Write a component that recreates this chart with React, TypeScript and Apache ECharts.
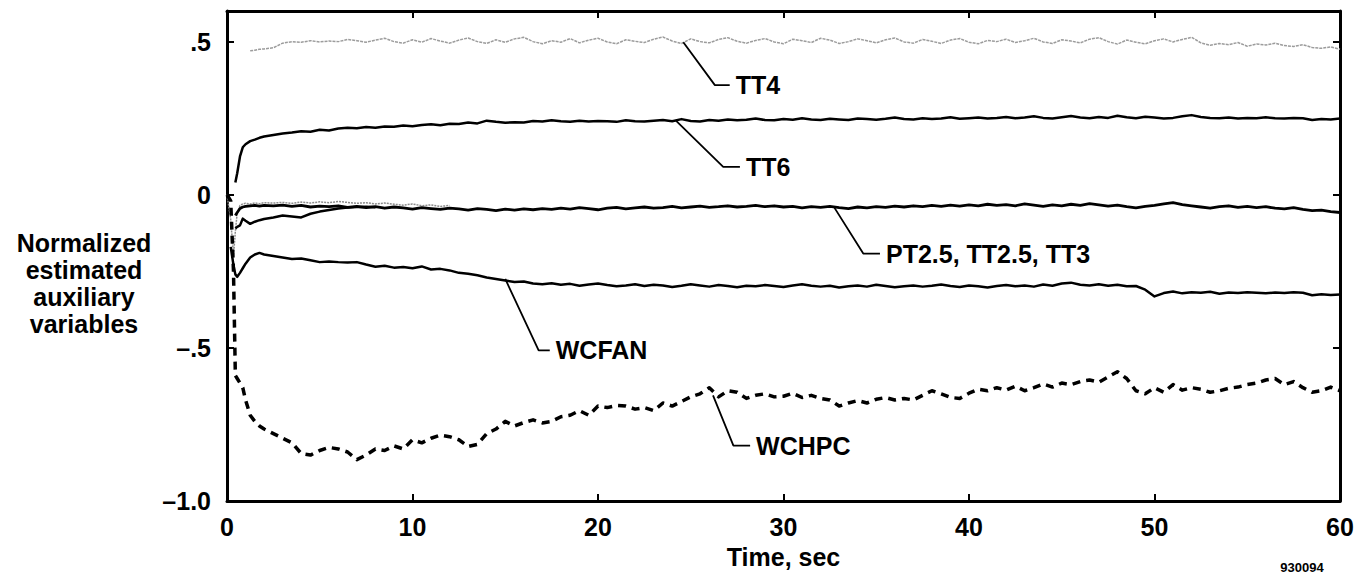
import React, { useEffect, useRef } from "react";
import * as echarts from "echarts";

// ---- data ----
const TIME = [
  0, 0.2, 0.35, 0.45, 0.55, 0.7, 0.85, 1.0, 1.25, 1.5, 1.75, 2.0,
  2.5, 3, 3.5, 4, 4.5, 5, 5.5, 6, 6.5, 7,
  7.5, 8, 8.5, 9, 9.5, 10, 10.5, 11, 11.5, 12,
  12.5, 13, 13.5, 14, 14.5, 15, 15.5, 16, 16.5, 17,
  17.5, 18, 18.5, 19, 19.5, 20, 20.5, 21, 21.5, 22,
  22.5, 23, 23.5, 24, 24.5, 25, 25.5, 26, 26.5, 27,
  27.5, 28, 28.5, 29, 29.5, 30, 30.5, 31, 31.5, 32,
  32.5, 33, 33.5, 34, 34.5, 35, 35.5, 36, 36.5, 37,
  37.5, 38, 38.5, 39, 39.5, 40, 40.5, 41, 41.5, 42,
  42.5, 43, 43.5, 44, 44.5, 45, 45.5, 46, 46.5, 47,
  47.5, 48, 48.5, 49, 49.5, 50, 50.5, 51, 51.5, 52,
  52.5, 53, 53.5, 54, 54.5, 55, 55.5, 56, 56.5, 57,
  57.5, 58, 58.5, 59, 59.5, 60,
];

const TT4 = [
  null, null, null, null, null, null, null, null, 0.47, 0.472, 0.475, 0.476,
  0.48, 0.495, 0.5, 0.498, 0.503, 0.499, 0.502, 0.5, 0.507, 0.503,
  0.498, 0.505, 0.511, 0.5, 0.495, 0.506, 0.498, 0.51, 0.502, 0.495,
  0.505, 0.512, 0.5, 0.494, 0.506, 0.498, 0.509, 0.514, 0.5, 0.493,
  0.503, 0.498, 0.51, 0.496, 0.505, 0.511, 0.499, 0.493, 0.506, 0.501,
  0.497, 0.508, 0.515, 0.502, 0.494, 0.509, 0.5, 0.496, 0.507, 0.513,
  0.501, 0.495, 0.504, 0.51, 0.499, 0.493, 0.508, 0.503, 0.497, 0.511,
  0.505, 0.494, 0.5, 0.509, 0.503, 0.496, 0.506, 0.512, 0.499, 0.495,
  0.507, 0.501, 0.494, 0.505, 0.51, 0.498, 0.493, 0.504, 0.5, 0.508,
  0.497, 0.503, 0.511, 0.499, 0.494, 0.506, 0.502, 0.496, 0.508, 0.513,
  0.5, 0.492, 0.505, 0.498, 0.493, 0.503, 0.509, 0.499, 0.507, 0.514,
  0.496, 0.488, 0.494, 0.49, 0.497, 0.485, 0.492, 0.489, 0.495, 0.487,
  0.484, 0.49, 0.481, 0.478, 0.483, 0.475,
];

const TT6 = [
  null, null, null, 0.04, 0.07, 0.125, 0.155, 0.165, 0.175, 0.18, 0.186, 0.19,
  0.195, 0.2, 0.203, 0.207, 0.206, 0.212, 0.21, 0.216, 0.219, 0.217,
  0.221, 0.219, 0.223, 0.222, 0.226, 0.224, 0.228, 0.23, 0.227, 0.232,
  0.231, 0.236, 0.233, 0.242, 0.238, 0.235, 0.237, 0.236, 0.241, 0.239,
  0.243, 0.24, 0.238, 0.242, 0.239, 0.241, 0.24, 0.238, 0.243, 0.24,
  0.239, 0.242, 0.244, 0.24, 0.247, 0.241, 0.239, 0.244, 0.242, 0.246,
  0.243, 0.245, 0.249, 0.244, 0.243, 0.247, 0.245, 0.25, 0.246, 0.244,
  0.248, 0.246, 0.244, 0.249, 0.247, 0.245, 0.248, 0.252, 0.247, 0.246,
  0.25, 0.247, 0.249, 0.253, 0.248, 0.25, 0.252, 0.249, 0.251, 0.254,
  0.25, 0.252, 0.256, 0.251, 0.249, 0.253, 0.257, 0.252, 0.25, 0.254,
  0.251, 0.258, 0.253, 0.25, 0.255, 0.252, 0.249, 0.251, 0.256, 0.26,
  0.254, 0.251, 0.25, 0.252, 0.249, 0.251, 0.25, 0.253, 0.25, 0.249,
  0.251, 0.25, 0.244, 0.247, 0.246, 0.249,
];

// PT2.5 / TT2.5 / TT3 group
const GROUP_A = [
  null, null, null, -0.068, -0.058, -0.045, -0.04, -0.038, -0.036, -0.035, -0.037, -0.035,
  -0.036, -0.034, -0.038, -0.035, -0.04, -0.037, -0.039, -0.036, -0.041, -0.038,
  -0.042, -0.039, -0.044, -0.04, -0.043, -0.047, -0.042, -0.045, -0.048, -0.044,
  -0.046, -0.05, -0.045, -0.048, -0.052, -0.047, -0.05, -0.046, -0.049, -0.045,
  -0.048, -0.044, -0.047, -0.042, -0.045, -0.049, -0.044, -0.041, -0.046, -0.043,
  -0.04, -0.044, -0.042, -0.038, -0.043, -0.04, -0.037, -0.041, -0.039, -0.036,
  -0.04, -0.038, -0.035, -0.039, -0.036, -0.04, -0.038, -0.043, -0.039, -0.041,
  -0.038, -0.042, -0.045, -0.04, -0.043, -0.039, -0.041, -0.037, -0.04, -0.036,
  -0.039, -0.035, -0.038, -0.034, -0.037, -0.033, -0.036, -0.031, -0.035, -0.032,
  -0.036, -0.03, -0.034, -0.038, -0.033, -0.036, -0.031, -0.035, -0.029, -0.033,
  -0.037, -0.034, -0.039, -0.043, -0.038, -0.035, -0.03, -0.026, -0.032, -0.036,
  -0.04, -0.044, -0.039, -0.036, -0.041, -0.038, -0.042, -0.039, -0.044, -0.046,
  -0.042, -0.048, -0.052, -0.05, -0.055, -0.058,
];

const GROUP_B = [
  null, null, null, -0.11, -0.105, -0.1, -0.078, -0.085, -0.095, -0.088, -0.083, -0.079,
  -0.074, -0.068, -0.071, -0.074, -0.062, -0.055, -0.05, -0.045, -0.042, -0.04,
  -0.039, -0.041,
];

const GROUP_C = [
  0, -0.08, -0.2, -0.12, -0.06, -0.035, -0.03, -0.028, -0.03, -0.027, -0.029, -0.026,
  -0.027, -0.025, -0.028, -0.024, -0.027, -0.023, -0.026, -0.022, -0.025, -0.028,
  -0.026, -0.03, -0.027, -0.031, -0.034, -0.03, -0.036, -0.033, -0.038, -0.035,
];

const WCFAN = [
  null, -0.17, -0.23, -0.26, -0.268, -0.255, -0.24, -0.225, -0.205, -0.195, -0.19, -0.195,
  -0.2, -0.205, -0.21, -0.208, -0.214, -0.22, -0.218, -0.22, -0.221, -0.22,
  -0.228, -0.235, -0.232, -0.238, -0.236, -0.24, -0.234, -0.244, -0.242, -0.247,
  -0.255, -0.258, -0.263, -0.27, -0.275, -0.28, -0.285, -0.283, -0.29, -0.292,
  -0.289, -0.294, -0.291, -0.297, -0.293, -0.29, -0.295, -0.299, -0.296, -0.292,
  -0.298, -0.294, -0.296, -0.301, -0.297, -0.292, -0.296, -0.3, -0.295, -0.298,
  -0.302, -0.297, -0.299, -0.295, -0.298, -0.301, -0.296, -0.292, -0.297, -0.3,
  -0.297, -0.303, -0.299, -0.296, -0.3, -0.294, -0.298, -0.302, -0.299, -0.296,
  -0.3, -0.297, -0.293, -0.298, -0.301, -0.296, -0.299, -0.303, -0.298, -0.295,
  -0.299, -0.296, -0.3, -0.293, -0.297, -0.29, -0.287, -0.294, -0.296, -0.292,
  -0.297, -0.294, -0.299, -0.298, -0.31, -0.332, -0.321, -0.316, -0.322, -0.318,
  -0.32, -0.317, -0.323, -0.319, -0.321, -0.318, -0.32, -0.322, -0.319, -0.321,
  -0.318, -0.32, -0.328, -0.325, -0.327, -0.326,
];

const WCHPC = [
  0, -0.02, -0.25, -0.59, -0.6, -0.615, -0.63, -0.67, -0.72, -0.74, -0.755, -0.765,
  -0.78, -0.795, -0.81, -0.845, -0.85, -0.835, -0.825, -0.83, -0.84, -0.865,
  -0.85, -0.83, -0.835, -0.82, -0.83, -0.8, -0.81, -0.795, -0.785, -0.79,
  -0.8, -0.822, -0.815, -0.78, -0.765, -0.74, -0.755, -0.744, -0.735, -0.745,
  -0.74, -0.725, -0.72, -0.705, -0.72, -0.69, -0.695, -0.688, -0.69, -0.7,
  -0.695, -0.705, -0.68, -0.69, -0.675, -0.66, -0.65, -0.63, -0.66, -0.64,
  -0.645, -0.665, -0.655, -0.65, -0.66, -0.658, -0.648, -0.662, -0.655, -0.665,
  -0.67, -0.69, -0.68, -0.672, -0.68, -0.668, -0.662, -0.67, -0.665, -0.67,
  -0.655, -0.64, -0.65, -0.662, -0.665, -0.648, -0.635, -0.64, -0.63, -0.638,
  -0.625, -0.64, -0.63, -0.618, -0.628, -0.615, -0.62, -0.61, -0.605, -0.612,
  -0.595, -0.578, -0.6, -0.64, -0.65, -0.63, -0.645, -0.62, -0.638, -0.63,
  -0.635, -0.645, -0.64, -0.632, -0.628, -0.62, -0.615, -0.605, -0.6, -0.62,
  -0.61, -0.63, -0.645, -0.64, -0.628, -0.64,
];

// Callout labels: name, point on curve, elbow, end of horizontal stub (data coords)
const CALLOUT_NAMES = ["TT4", "TT6", "PT2.5, TT2.5, TT3", "WCFAN", "WCHPC"];
const CALLOUT_POINTS = [
  [[24.6, 0.498], [26.3, 0.358], [27.1, 0.358]],
  [[24.2, 0.242], [26.75, 0.091], [27.65, 0.091]],
  [[32.7, -0.038], [34.3, -0.192], [35.2, -0.192]],
  [[15.0, -0.275], [16.8, -0.508], [17.4, -0.508]],
  [[26.2, -0.655], [27.3, -0.819], [28.2, -0.819]],
];

const X_TICKS_MAX = 60;
const Y_LABELS: Record<string, string> = { "-1": "\u20131.0", "-0.5": "\u2013.5", "0": "0", "0.5": ".5" };

const FONT = "'Liberation Sans', Arial, Helvetica, sans-serif";

function pairs(ys: (number | null)[]) {
  return ys.map((y, i) => [TIME[i], y]);
}

export default function App() {
  const ref = useRef<HTMLDivElement>(null);

  useEffect(() => {
    if (!ref.current) return;
    const chart = echarts.init(ref.current, undefined, { renderer: "svg" });

    const lineSeries = (data: any, color: string, width: number, type: any = "solid", z = 2) => ({
      type: "line",
      data,
      symbol: "none",
      silent: true,
      z,
      connectNulls: false,
      lineStyle: { color, width, type, join: "round", cap: "butt" },
    });

    const callouts = CALLOUT_NAMES.map((name, i) => ({
      type: "line",
      name,
      data: CALLOUT_POINTS[i],
      symbol: "none",
      silent: true,
      z: 5,
      lineStyle: { color: "#000", width: 1.8 },
      endLabel: {
        show: true,
        formatter: name,
        fontFamily: FONT,
        fontSize: 25,
        fontWeight: "bold",
        color: "#000",
        distance: 6,
      },
    }));

    const xBase = {
      type: "value",
      min: 0,
      max: X_TICKS_MAX,
      interval: 10,
      splitLine: { show: false },
      axisLine: { show: true, onZero: false, lineStyle: { color: "#000", width: 3 } },
      axisTick: { show: true, inside: true, length: 7, lineStyle: { color: "#000", width: 2 } },
    };
    const yBase = {
      type: "value",
      min: -1,
      max: 0.6,
      interval: 0.5,
      splitLine: { show: false },
      axisLine: { show: true, onZero: false, lineStyle: { color: "#000", width: 3 } },
      axisTick: { show: true, inside: true, length: 7, lineStyle: { color: "#000", width: 2 } },
    };

    chart.setOption({
      animation: false,
      backgroundColor: "#fff",
      grid: { left: 227, right: 28, top: 11, bottom: 76, containLabel: false },
      xAxis: [
        {
          ...xBase,
          position: "bottom",
          axisLabel: {
            fontFamily: FONT,
            fontSize: 25,
            fontWeight: "bold",
            color: "#000",
            margin: 13,
          },
          name: "Time, sec",
          nameLocation: "middle",
          nameGap: 43,
          nameTextStyle: { fontFamily: FONT, fontSize: 25, fontWeight: "bold", color: "#000" },
        },
        { ...xBase, position: "top", axisLabel: { show: false } },
      ],
      yAxis: [
        {
          ...yBase,
          position: "left",
          axisLabel: {
            fontFamily: FONT,
            fontSize: 25,
            fontWeight: "bold",
            color: "#000",
            margin: 16,
            formatter: (v: number) => {
              const key = String(Math.round(v * 10) / 10);
              return Y_LABELS[key] ?? "";
            },
          },
        },
        { ...yBase, position: "right", axisLabel: { show: false } },
      ],
      graphic: [
        {
          type: "text",
          x: 84,
          y: 283,
          style: {
            text: "Normalized\nestimated\nauxiliary\nvariables",
            fontFamily: FONT,
            fontSize: 25,
            fontWeight: "bold",
            fill: "#000",
            align: "center",
            verticalAlign: "middle",
            lineHeight: 27,
          },
        },
        {
          type: "text",
          x: 1302,
          y: 567,
          style: {
            text: "930094",
            fontFamily: FONT,
            fontSize: 13,
            fontWeight: "bold",
            fill: "#000",
            align: "center",
            verticalAlign: "middle",
          },
        },
      ],
      series: [
        lineSeries(pairs(TT4), "#9c9c9c", 1.5, [3, 1], 2),
        lineSeries(pairs(GROUP_C), "#8c8c8c", 1.5, [2, 1], 2),
        lineSeries(pairs(TT6), "#000", 2.5),
        lineSeries(pairs(GROUP_B), "#000", 2.5),
        lineSeries(pairs(GROUP_A), "#000", 2.8),
        lineSeries(pairs(WCFAN), "#000", 2.5),
        lineSeries(pairs(WCHPC), "#000", 3.5, [8, 6]),
        ...callouts,
      ],
    });

    return () => chart.dispose();
  }, []);

  return (
    <div
      ref={ref}
      style={{ position: "absolute", left: 0, top: 0, width: 1368, height: 577, background: "#fff" }}
    />
  );
}
